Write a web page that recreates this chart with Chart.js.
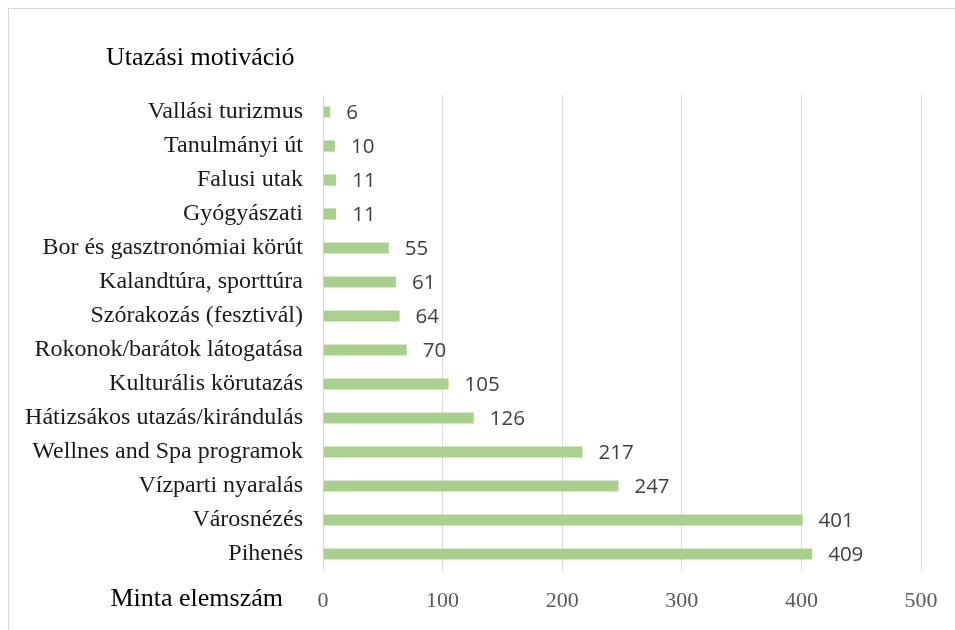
<!DOCTYPE html>
<html lang="hu">
<head>
  <meta charset="UTF-8" />
  <title>Utazási motiváció</title>
  <script src="https://cdn.jsdelivr.net/npm/chart.js"></script>
  <style>
    body {
      margin: 0;
      background: #ffffff;
    }
    .wrap {
      width: 955px;
      height: 630px;
    }
  </style>
</head>
<body>
  <div class="wrap"><canvas id="motivChart" width="955" height="630"></canvas></div>

  <script>
    const categories = [
      'Vallási turizmus',
      'Tanulmányi út',
      'Falusi utak',
      'Gyógyászati',
      'Bor és gasztronómiai körút',
      'Kalandtúra, sporttúra',
      'Szórakozás (fesztivál)',
      'Rokonok/barátok látogatása',
      'Kulturális körutazás',
      'Hátizsákos utazás/kirándulás',
      'Wellnes and Spa programok',
      'Vízparti nyaralás',
      'Városnézés',
      'Pihenés'
    ];
    const counts = [6, 10, 11, 11, 55, 61, 64, 70, 105, 126, 217, 247, 401, 409];
    const xTicks = [0, 100, 200, 300, 400, 500];
    const chartTitle = 'Utazási motiváció';
    const xAxisTitle = 'Minta elemszám';

    const serif = "'Liberation Serif', 'Times New Roman', serif";

    // frame, title, axis title and value labels
    const extras = {
      id: 'extras',
      beforeDraw(chart) {
        const c = chart.ctx;
        c.save();
        c.strokeStyle = '#d9d9d9';
        c.lineWidth = 1;
        c.strokeRect(8.5, 8.5, 1200, 1200);
        c.restore();
      },
      afterDatasetsDraw(chart) {
        const c = chart.ctx;
        const meta = chart.getDatasetMeta(0);
        c.save();
        c.font = "20.5px 'Open Sans', sans-serif";
        c.fillStyle = '#404040';
        c.textAlign = 'left';
        c.textBaseline = 'middle';
        meta.data.forEach((bar, i) => {
          c.fillText(String(counts[i]), bar.x + 16, bar.y + 1);
        });
        c.restore();
      },
      afterDraw(chart) {
        const c = chart.ctx;
        c.save();
        c.fillStyle = '#000000';
        c.textBaseline = 'alphabetic';
        c.font = '26px ' + serif;
        c.textAlign = 'left';
        c.fillText(chartTitle, 106, 65);
        c.textAlign = 'right';
        c.fillText(xAxisTitle, 283, 606);
        c.restore();
      }
    };

    new Chart(document.getElementById('motivChart'), {
      type: 'bar',
      data: {
        labels: categories,
        datasets: [{
          data: counts,
          backgroundColor: '#a9d18e',
          categoryPercentage: 1,
          barPercentage: 0.33
        }]
      },
      options: {
        indexAxis: 'y',
        responsive: false,
        animation: false,
        layout: { padding: { top: 95, right: 34, bottom: 0, left: 0 } },
        plugins: {
          legend: { display: false },
          tooltip: { enabled: false }
        },
        scales: {
          x: {
            min: 0,
            max: 500,
            afterBuildTicks: s => { s.ticks = xTicks.map(v => ({ value: v })); },
            afterFit: s => { s.height = 59; },
            border: { display: false },
            grid: { color: '#d9d9d9', lineWidth: 1, drawTicks: false },
            ticks: {
              padding: 17,
              color: '#595959',
              font: { family: serif, size: 22 }
            }
          },
          y: {
            afterFit: s => { s.width = 323; },
            border: { display: false },
            grid: { display: false, drawTicks: false },
            ticks: {
              padding: 20,
              color: '#1a1a1a',
              font: { family: serif, size: 24 }
            }
          }
        }
      },
      plugins: [extras]
    });
  </script>
</body>
</html>
